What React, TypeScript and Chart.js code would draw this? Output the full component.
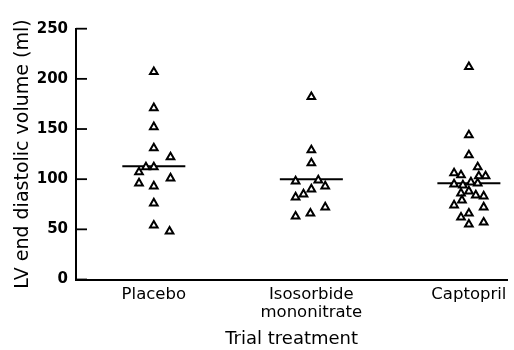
import React, { useEffect, useRef } from "react";
import { Chart, registerables } from "chart.js";

Chart.register(...registerables);

// Categories (x) and tick labels
const categories: (string | string[])[] = ["Placebo", ["Isosorbide", "mononitrate"], "Captopril"];
const yTicks = [0, 50, 100, 150, 200, 250];

// LV end diastolic volume (ml) per patient
const placeboValues = [207, 171, 152, 131, 122, 112, 112, 107, 101, 96, 93, 76, 54, 48];
const isosorbideValues = [182, 129, 116, 98, 99, 93, 90, 85, 82, 63, 66, 72];
const captoprilValues = [212, 144, 124, 112, 106, 104, 103, 103, 97, 96, 95, 94, 88, 86, 84, 83, 79, 74, 72, 66, 62, 57, 55];

// horizontal jitter of each point within its category (category units)
const placeboJitter = [0, 0, 0, 0, 0.106, 0, -0.05, -0.094, 0.106, -0.094, 0, 0, 0, 0.1];
const isosorbideJitter = [0, 0, 0, -0.1, 0.044, 0.088, 0, -0.05, -0.1, -0.1, -0.006, 0.088];
const captoprilJitter = [0, 0, 0, 0.056, -0.094, -0.05, 0.063, 0.106, 0.013, 0.056, -0.094, -0.038, 0, -0.05, 0.044, 0.094, -0.044, -0.094, 0.094, 0, -0.05, 0.094, 0];

// group means (horizontal bars)
const meanValues = [113, 100, 96];
const meanHalfWidth = 0.2;

const FONT = "DejaVu Sans";

export default function App() {
  const ref = useRef<HTMLCanvasElement | null>(null);

  useEffect(() => {
    if (!ref.current) return;
    const groups = [
      { values: placeboValues, jitter: placeboJitter },
      { values: isosorbideValues, jitter: isosorbideJitter },
      { values: captoprilValues, jitter: captoprilJitter },
    ];
    const pointSets: any[] = groups.map((g, gi) => ({
      type: "scatter",
      data: g.values.map((v, i) => ({ x: gi + g.jitter[i], y: v })),
      pointStyle: "triangle",
      pointRadius: 4.4,
      pointHoverRadius: 4.4,
      backgroundColor: "#ffffff",
      borderColor: "#000000",
      borderWidth: 2,
      order: 1,
    }));
    const meanSets: any[] = meanValues.map((m, gi) => ({
      type: "line",
      data: [
        { x: gi - meanHalfWidth, y: m },
        { x: gi + meanHalfWidth, y: m },
      ],
      borderColor: "#000000",
      borderWidth: 2,
      pointRadius: 0,
      showLine: true,
      fill: false,
      order: 2,
    }));

    const inwardTicks = {
      id: "inwardTicks",
      afterDraw(chart: any) {
        const ys = chart.scales.y;
        const ctx = chart.ctx;
        ctx.save();
        ctx.strokeStyle = "#000";
        ctx.lineWidth = 1.8;
        for (const v of yTicks) {
          const py = ys.getPixelForValue(v);
          ctx.beginPath();
          ctx.moveTo(chart.chartArea.left, py);
          ctx.lineTo(chart.chartArea.left + 11, py);
          ctx.stroke();
        }
        ctx.restore();
      },
    };

    const chart = new Chart(ref.current, {
      type: "scatter",
      data: { datasets: [...meanSets, ...pointSets] },
      options: {
        responsive: false,
        animation: false,
        layout: { padding: { top: 28.7, right: 0, bottom: 0, left: 0 } },
        plugins: { legend: { display: false }, tooltip: { enabled: false } },
        scales: {
          x: {
            type: "linear",
            min: -0.494,
            max: 2.244,
            afterBuildTicks: (s: any) => {
              s.ticks = categories.map((_, i) => ({ value: i }));
            },
            afterFit: (s: any) => {
              s.height = 70.5;
            },
            ticks: {
              callback: (_v: any, i: number) => categories[i],
              font: { family: FONT, size: 16.5, lineHeight: 1.05 },
              color: "#000",
              padding: 7,
              maxRotation: 0,
              autoSkip: false,
            },
            grid: { display: false, drawTicks: false },
            border: { display: true, color: "#000", width: 2 },
            title: {
              display: true,
              text: "Trial treatment",
              font: { family: FONT, size: 18 },
              color: "#000",
              padding: { top: 0, bottom: 0 },
            },
          },
          y: {
            type: "linear",
            min: 0,
            max: 250,
            afterBuildTicks: (s: any) => {
              s.ticks = yTicks.map((v) => ({ value: v }));
            },
            afterFit: (s: any) => {
              s.width = 76;
            },
            ticks: {
              font: { family: FONT, size: 15, weight: "bold" },
              color: "#000",
              padding: 8,
            },
            grid: { display: false, drawTicks: false },
            border: { display: true, color: "#000", width: 2 },
            title: {
              display: true,
              text: "LV end diastolic volume (ml)",
              font: { family: FONT, size: 19 },
              color: "#000",
              padding: { top: 12, bottom: 0 },
            },
          },
        },
      },
      plugins: [inwardTicks],
    } as any);
    return () => chart.destroy();
  }, []);

  return (
    <div style={{ position: "absolute", left: 0, top: 0, width: 514, height: 350, background: "#fff" }}>
      <canvas ref={ref} width={514} height={350} />
    </div>
  );
}
